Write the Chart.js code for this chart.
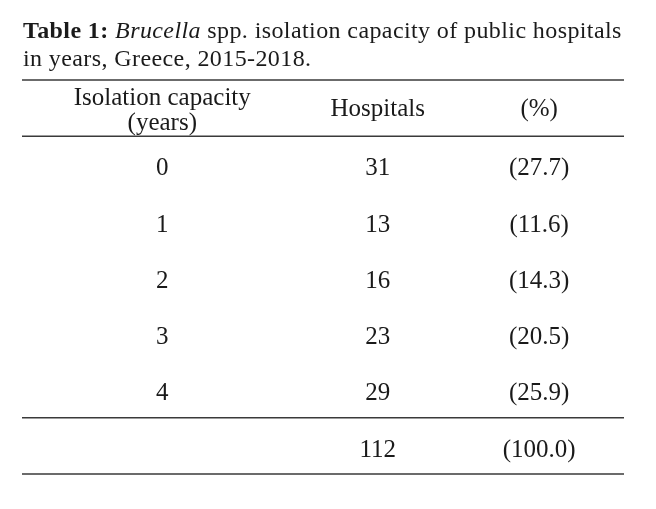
<!DOCTYPE html>
<html>
<head>
<meta charset="utf-8">
<script src="https://cdn.jsdelivr.net/npm/chart.js@4"></script>
<style>
  body { margin: 0; background: #fff; }
  #wrap { position: relative; width: 656px; height: 509px; }
  #title {
    position: absolute; left: 23px; top: 16px; width: 630px;
    font-family: 'Liberation Serif', 'Times New Roman', serif;
    font-size: 24px; line-height: 28.4px; letter-spacing: 0.4px; color: #1a1a1a;
    white-space: nowrap;
  }
  canvas { position: absolute; left: 0; top: 0; }
</style>
</head>
<body>
<div id="wrap">
  <canvas id="canvas" width="656" height="509"></canvas>
  <div id="title"><b>Table 1:</b> <i>Brucella</i> spp. isolation capacity of public hospitals<br>in years, Greece, 2015-2018.</div>
</div>
<script>
// Table data
const headerCapacity = ['Isolation capacity', '(years)'];
const headerHospitals = 'Hospitals';
const headerPercent = '(%)';
const capacityYears = ['0', '1', '2', '3', '4'];
const hospitals = [31, 13, 16, 23, 29];
const percents = [27.7, 11.6, 14.3, 20.5, 25.9];
const totalHospitals = 112;
const totalPercent = 100.0;

// layout: column centres in % of table width, rows are 0 (header) .. 6 (total)
const colPos = [23.3, 59.1, 85.9];
const ruleRows = [-0.5, 0.5, 5.5, 6.5];
const fontFamily = "'Liberation Serif', 'Times New Roman', serif";

// one cell = one point, the label is kept next to it
function cells() {
  const col0 = [], col1 = [], col2 = [];
  col0.push({ x: colPos[0], y: 0, text: headerCapacity });
  col1.push({ x: colPos[1], y: 0, text: headerHospitals });
  col2.push({ x: colPos[2], y: 0, text: headerPercent });
  capacityYears.forEach((yr, i) => {
    col0.push({ x: colPos[0], y: i + 1, text: yr });
    col1.push({ x: colPos[1], y: i + 1, text: String(hospitals[i]) });
    col2.push({ x: colPos[2], y: i + 1, text: '(' + percents[i].toFixed(1) + ')' });
  });
  col1.push({ x: colPos[1], y: capacityYears.length + 1, text: String(totalHospitals) });
  col2.push({ x: colPos[2], y: capacityYears.length + 1, text: '(' + totalPercent.toFixed(1) + ')' });
  return [col0, col1, col2];
}

const tablePlugin = {
  id: 'tablePlugin',
  afterDatasetsDraw(chart) {
    const ctx = chart.ctx;
    const area = chart.chartArea;
    const yScale = chart.scales.y;

    // horizontal rules
    ctx.save();
    ctx.strokeStyle = '#3a3a3a';
    ctx.lineWidth = 1.6;
    ruleRows.forEach(r => {
      const y = yScale.getPixelForValue(r);
      ctx.beginPath();
      ctx.moveTo(area.left, y);
      ctx.lineTo(area.right, y);
      ctx.stroke();
    });

    // cell text, alphabetic baseline below the row centre
    ctx.fillStyle = '#1a1a1a';
    ctx.font = '25px ' + fontFamily;
    ctx.textAlign = 'center';
    ctx.textBaseline = 'alphabetic';
    chart.data.datasets.forEach((ds, di) => {
      const meta = chart.getDatasetMeta(di);
      meta.data.forEach((pt, i) => {
        const t = ds.data[i].text;
        if (Array.isArray(t)) {
          ctx.fillText(t[0], pt.x, pt.y - 3);
          ctx.fillText(t[1], pt.x, pt.y + 22);
        } else if (ds.data[i].y === 0) {
          ctx.fillText(t, pt.x, pt.y + 8);
        } else {
          ctx.fillText(t, pt.x, pt.y + 10.8);
        }
      });
    });
    ctx.restore();
  }
};

const columns = cells();

new Chart(document.getElementById('canvas').getContext('2d'), {
  type: 'scatter',
  data: {
    datasets: columns.map(c => ({ data: c, pointRadius: 0, pointHoverRadius: 0 }))
  },
  options: {
    responsive: false,
    animation: false,
    events: [],
    layout: { padding: { left: 22, right: 32, top: 80, bottom: 35 } },
    plugins: { legend: { display: false }, tooltip: { enabled: false } },
    scales: {
      x: { type: 'linear', min: 0, max: 100, display: false },
      y: { type: 'linear', min: -0.5, max: 6.5, reverse: true, display: false }
    }
  },
  plugins: [tablePlugin]
});
</script>
</body>
</html>
